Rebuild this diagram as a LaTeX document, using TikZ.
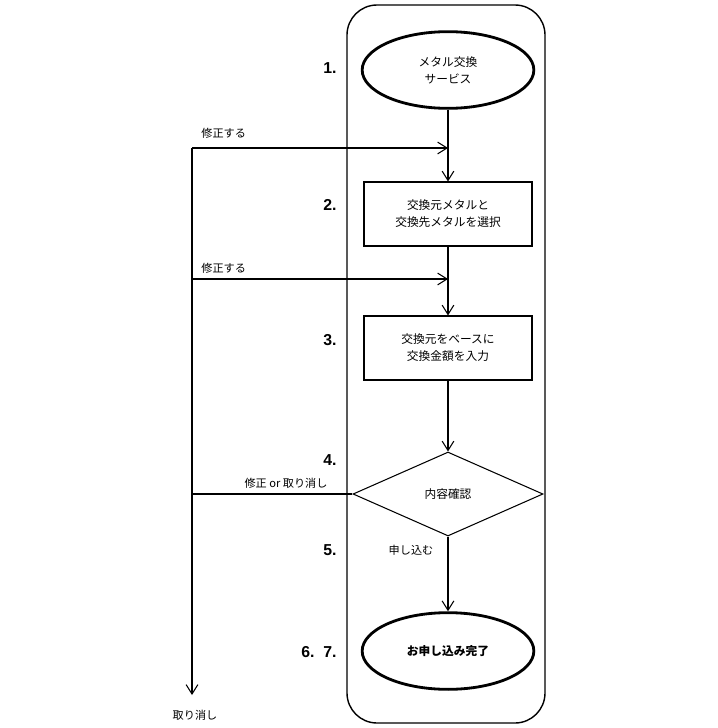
\documentclass[tikz,border=0pt]{standalone}
\usepackage{fontspec}
\setmainfont{Noto Sans CJK JP}
\newfontfamily\numfont{Liberation Sans}
\usetikzlibrary{arrows.meta,shapes.geometric}

\begin{document}
\begin{tikzpicture}[x=0.03cm,y=-0.03cm,line width=0.9pt,
    >={Straight Barb[length=8pt,width=10pt]},
    terminal/.style={ellipse,draw,line width=2.4pt,inner sep=0pt,
      minimum width=5.15cm,minimum height=2.3cm,align=center,
      font=\fontsize{10}{14.5}\selectfont},
    process/.style={rectangle,draw,inner sep=0pt,minimum width=5.04cm,
      minimum height=1.92cm,align=center,font=\fontsize{10}{14.5}\selectfont},
    decision/.style={diamond,draw,inner sep=0pt,minimum width=5.7cm,
      minimum height=2.52cm,font=\fontsize{10}{12}\selectfont},
    stepnum/.style={anchor=east,font=\numfont\bfseries\fontsize{13.5}{15}\selectfont},
    edgelabel/.style={font=\fontsize{9.5}{12}\selectfont}]

  \useasboundingbox (0,0) rectangle (717,728);

  % Frame
  \draw[line width=1.2pt,rounded corners=0.9cm] (347,5) rectangle (545,723);

  % Steps
  \node[terminal] (svc) at (448,70) {メタル交換\\サービス};
  \node[process] (sel) at (448,214) {交換元メタルと\\交換先メタルを選択};
  \node[process] (amt) at (448,348) {交換元をベースに\\交換金額を入力};
  \node[decision] (chk) at (448,494) {内容確認};
  \node[terminal,font=\bfseries\fontsize{10}{14.5}\selectfont] (done) at (448,651) {お申し込み完了};

  % Step numbers
  \node[stepnum] (n1) at (341,68) {1.};
  \node[stepnum] (n2) at (341,205) {2.};
  \node[stepnum] (n3) at (341,340) {3.};
  \node[stepnum] (n4) at (341,460) {4.};
  \node[stepnum] (n5) at (341,550) {5.};
  \node[stepnum] (n67) at (341,652) {6.\ \ 7.};

  % Main flow
  \draw[->] (svc) -- (sel);
  \draw[->] (sel) -- (amt);
  \draw[->] (amt) -- (chk);
  \draw[->] (chk) -- (done);

  % Return paths
  \coordinate (fix1) at (192,148);
  \coordinate (fix2) at (192,279);
  \coordinate (cancel) at (192,695);
  \draw[->] (fix1) -- (svc.south |- fix1);
  \draw[->] (fix2) -- (sel.south |- fix2);
  \draw[->] (fix1) -- (cancel);
  \draw (chk.west) -- (chk.west -| cancel);

  % Labels
  \node[edgelabel,anchor=west] (lfix1) at (197,133) {修正する};
  \node[edgelabel,anchor=west] (lfix2) at (197,268) {修正する};
  \node[edgelabel] (lback) at (286,483) {修正 or 取り消し};
  \node[edgelabel] (lapply) at (411,550) {申し込む};
  \node[edgelabel] (lcancel) at (195,715) {取り消し};
\end{tikzpicture}
\end{document}
